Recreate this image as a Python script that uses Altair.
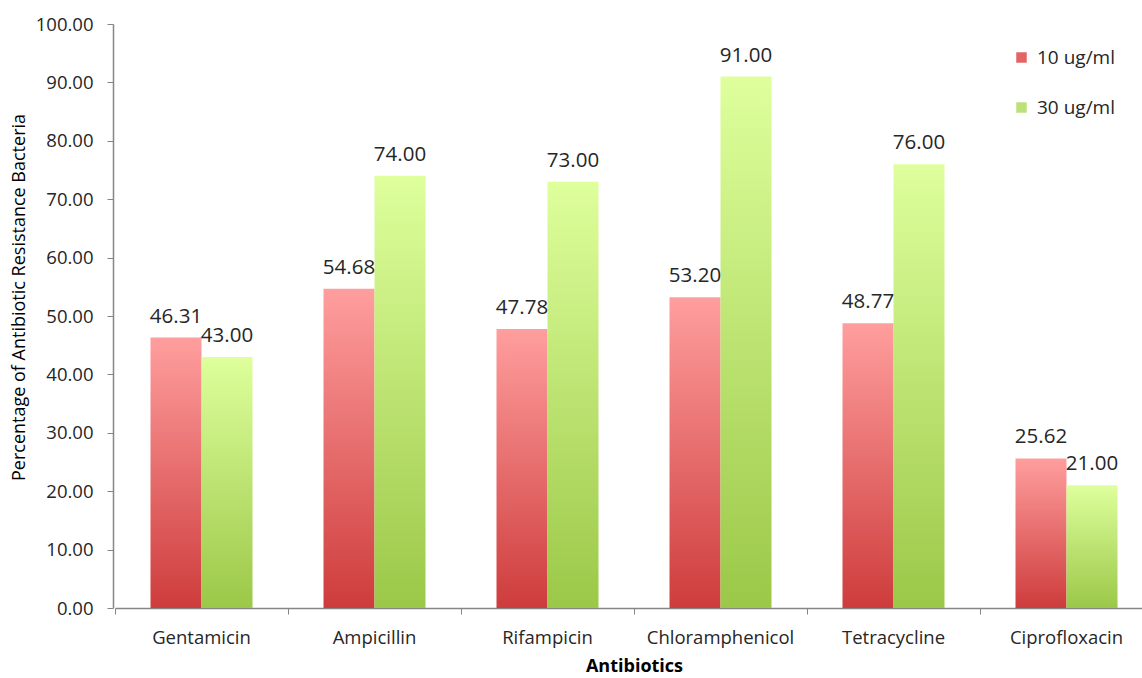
import altair as alt
import pandas as pd

antibiotics = ["Gentamicin", "Ampicillin", "Rifampicin", "Chloramphenicol", "Tetracycline", "Ciprofloxacin"]
series = ["10 ug/ml", "30 ug/ml"]
vals_10 = [46.31, 54.68, 47.78, 53.20, 48.77, 25.62]
vals_30 = [43.00, 74.00, 73.00, 91.00, 76.00, 21.00]

rows = []
for a, v1, v3 in zip(antibiotics, vals_10, vals_30):
    rows.append({"Antibiotic": a, "Series": series[0], "Value": v1})
    rows.append({"Antibiotic": a, "Series": series[1], "Value": v3})
df = pd.DataFrame(rows)

FONT = "Open Sans"
TXT = "#262626"
AXC = "#868686"

red_grad = alt.Gradient(gradient="linear", x1=0, y1=0, x2=0, y2=1,
                        stops=[alt.GradientStop(offset=0, color="#FF9E9E"),
                               alt.GradientStop(offset=1, color="#CE3C3C")])
green_grad = alt.Gradient(gradient="linear", x1=0, y1=0, x2=0, y2=1,
                          stops=[alt.GradientStop(offset=0, color="#DEFF9C"),
                                 alt.GradientStop(offset=1, color="#9BC848")])

x_enc = alt.X("Antibiotic:N", sort=antibiotics,
              scale=alt.Scale(paddingInner=0, paddingOuter=0, range=[2, 1040]),
              axis=alt.Axis(title="Antibiotics", titleFontWeight="bold", titleFontSize=18,
                            titleFont=FONT, titleColor="#000000", titlePadding=11,
                            labelFont=FONT, labelFontSize=18.5, labelColor=TXT, labelAngle=0,
                            labelPadding=14, tickSize=6, tickColor=AXC, domainColor=AXC,
                            domainWidth=1.5, bandPosition=0, grid=False))
xoff = alt.XOffset("Series:N", sort=series,
                   scale=alt.Scale(domain=series, paddingInner=0, paddingOuter=0.696))
y_enc = alt.Y("Value:Q", scale=alt.Scale(domain=[0, 100], nice=False),
              axis=alt.Axis(title="Percentage of Antibiotic Resistance Bacteria",
                            titleFont=FONT, titleFontSize=18, titleFontWeight="normal",
                            titleColor="#000000", titleX=-85, titleY=273,
                            values=list(range(0, 101, 10)), format=".2f",
                            labelFont=FONT, labelFontSize=18.5, labelColor=TXT,
                            labelPadding=14, tickSize=6, tickColor=AXC,
                            domainColor=AXC, domainWidth=1.5, grid=False))

base = alt.Chart(df)

bars10 = base.transform_filter(alt.datum.Series == series[0]).mark_bar(
    fill=red_grad).encode(x=x_enc, xOffset=xoff, y=y_enc)
bars30 = base.transform_filter(alt.datum.Series == series[1]).mark_bar(
    fill=green_grad).encode(x=x_enc, xOffset=xoff, y=y_enc)

labels = base.mark_text(font=FONT, fontSize=20.5, color=TXT, baseline="bottom", dy=-11).encode(
    x=x_enc, xOffset=xoff, y=y_enc, text=alt.Text("Value:Q", format=".2f"))

legend_layer = base.mark_square(size=0).encode(
    x=x_enc, xOffset=xoff, y=y_enc,
    color=alt.Color("Series:N", sort=series,
                    scale=alt.Scale(domain=series, range=["#E26464", "#BCE07A"]),
                    legend=alt.Legend(title=None, orient="none", legendX=899, legendY=24,
                                      symbolType="square", symbolSize=110, symbolOpacity=1,
                                      symbolStrokeWidth=0, labelFont=FONT, labelFontSize=19,
                                      labelColor=TXT, rowPadding=30, labelOffset=6)))

chart = alt.layer(bars10, bars30, labels, legend_layer).properties(
    width=1029, height=584,
    autosize=alt.AutoSizeParams(type="none"),
    padding={"left": 113, "top": 24, "right": 0, "bottom": 70},
    background="white",
).configure_view(stroke=None)

chart.save("out.html", embed_options={"renderer": "svg", "actions": False})
